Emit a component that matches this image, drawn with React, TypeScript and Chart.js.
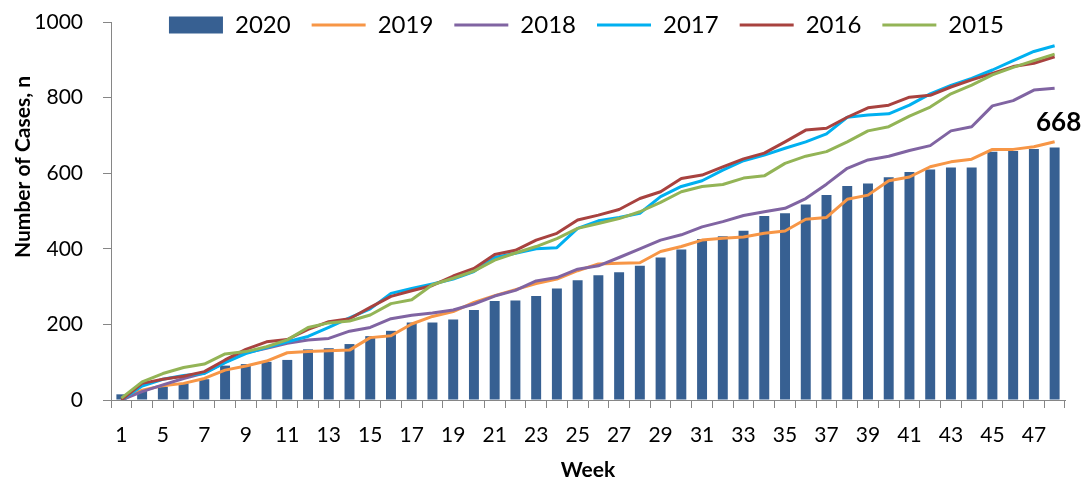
import React, { useEffect, useRef } from 'react';
import { Chart, registerables } from 'chart.js';

Chart.register(...registerables);

// Week labels (every other one is shown on the axis)
const weeks = ['1', '4', '5', '6', '7', '8', '9', '10', '11', '12', '13', '14', '15', '16', '17', '18', '19', '20', '21', '22', '23', '24', '25', '26', '27', '28', '29', '30', '31', '32', '33', '34', '35', '36', '37', '38', '39', '40', '41', '42', '43', '44', '45', '46', '47', '48'];

const cases2020 = [15, 25, 35, 44, 55, 91, 95, 101, 106, 134, 137, 148, 169, 183, 205, 205, 213, 238, 262, 263, 275, 295, 317, 330, 338, 355, 377, 398, 426, 433, 448, 487, 494, 517, 542, 566, 573, 589, 603, 610, 615, 615, 657, 659, 664, 668];
const cases2019 = [0, 26, 38, 44, 57, 79, 90, 103, 125, 128, 130, 132, 165, 170, 201, 221, 234, 258, 276, 292, 308, 320, 342, 360, 362, 363, 393, 406, 423, 428, 431, 441, 447, 478, 483, 531, 542, 580, 590, 617, 630, 637, 663, 663, 670, 683];
const cases2018 = [0, 22, 40, 57, 71, 100, 125, 137, 150, 159, 163, 182, 192, 215, 224, 230, 238, 254, 275, 290, 315, 324, 346, 355, 377, 400, 423, 437, 458, 472, 488, 498, 507, 533, 571, 613, 635, 645, 660, 673, 712, 723, 778, 792, 820, 825];
const cases2017 = [0, 37, 55, 65, 70, 99, 123, 139, 154, 168, 192, 217, 241, 282, 295, 307, 320, 340, 377, 388, 400, 403, 454, 474, 483, 494, 538, 565, 580, 608, 633, 648, 666, 683, 704, 748, 754, 757, 780, 810, 832, 851, 873, 898, 922, 937];
const cases2016 = [0, 44, 55, 63, 75, 106, 134, 154, 160, 187, 207, 215, 245, 274, 289, 303, 328, 348, 385, 396, 423, 441, 476, 489, 504, 533, 551, 586, 595, 617, 638, 653, 683, 714, 719, 748, 773, 780, 801, 806, 828, 847, 864, 882, 891, 908];
const cases2015 = [5, 48, 70, 86, 95, 122, 128, 141, 159, 192, 204, 209, 225, 255, 265, 305, 322, 341, 370, 389, 406, 427, 454, 467, 480, 498, 523, 551, 565, 570, 587, 593, 626, 645, 657, 683, 712, 723, 751, 775, 810, 833, 860, 880, 898, 915];

const yearLabels = ['2020', '2019', '2018', '2017', '2016', '2015'];
const yTicks = [0, 200, 400, 600, 800, 1000];
const xTitle = 'Week';
const yTitle = 'Number of Cases, n';

const FONT = "Lato, 'Open Sans', sans-serif";
const AXIS = '#868686';

const legendPlace = {
  id: 'legendPlace',
  afterLayout(chart: any) {
    const lg = chart.legend;
    if (!lg) return;
    lg.top = -8;
    lg.bottom = 60;
    lg.left += 54;
    lg.right += 54;
  },
};

const yTitlePlugin = {
  id: 'yTitlePlugin',
  afterDraw(chart: any) {
    const ctx = chart.ctx;
    const area = chart.chartArea;
    ctx.save();
    ctx.translate(23, area.top + 145);
    ctx.rotate(-Math.PI / 2);
    ctx.font = `bold 21px ${FONT}`;
    ctx.fillStyle = '#000';
    ctx.textAlign = 'center';
    ctx.textBaseline = 'middle';
    ctx.fillText(yTitle, 0, 0);
    ctx.restore();
  },
};

const lastLabel = {
  id: 'lastLabel',
  afterDatasetsDraw(chart: any) {
    const meta = chart.getDatasetMeta(0);
    const i = cases2020.length - 1;
    const el = meta.data[i];
    if (!el) return;
    const ctx = chart.ctx;
    ctx.save();
    ctx.font = `bold 26px ${FONT}`;
    ctx.fillStyle = '#000';
    ctx.textAlign = 'center';
    ctx.textBaseline = 'alphabetic';
    ctx.fillText(String(cases2020[i]), el.x + 4, el.y - 16);
    ctx.restore();
  },
};

function lineDs(label: string, data: number[], color: string, order: number) {
  return {
    type: 'line' as const,
    label,
    data,
    borderColor: color,
    backgroundColor: color,
    borderWidth: 3,
    pointRadius: 0,
    pointHoverRadius: 0,
    pointStyle: 'line',
    pointBorderWidth: 3,
    pointBorderColor: color,
    pointBackgroundColor: color,
    borderJoinStyle: 'round' as const,
    tension: 0,
    fill: false,
    order,
  };
}

export default function App() {
  const ref = useRef<HTMLCanvasElement>(null);
  useEffect(() => {
    if (!ref.current) return;
    const chart = new Chart(ref.current, {
      type: 'bar',
      data: {
        labels: weeks,
        datasets: [
          {
            type: 'bar',
            label: yearLabels[0],
            data: cases2020,
            backgroundColor: '#376092',
            borderWidth: 0,
            barPercentage: 0.48,
            categoryPercentage: 1,
            pointStyle: 'rect',
            order: 6,
          } as any,
          lineDs(yearLabels[1], cases2019, '#F79646', 5),
          lineDs(yearLabels[2], cases2018, '#8064A2', 4),
          lineDs(yearLabels[3], cases2017, '#00B0F0', 3),
          lineDs(yearLabels[4], cases2016, '#A8423F', 2),
          lineDs(yearLabels[5], cases2015, '#93B456', 1),
        ],
      },
      options: {
        responsive: false,
        animation: false,
        events: [],
        layout: { padding: { left: 0, right: 18, top: 21, bottom: 0 } },
        plugins: {
          tooltip: { enabled: false },
          legend: {
            position: 'top',
            maxHeight: 1,
            labels: {
              usePointStyle: true,
              pointStyleWidth: 54,
              boxHeight: 17,
              padding: 21,
              color: '#000',
              font: { family: FONT, size: 24 },
              sort: (a: any, b: any) => a.datasetIndex - b.datasetIndex,
            },
          },
        },
        scales: {
          x: {
            offset: true,
            afterFit: (s: any) => {
              s.height = 83;
            },
            grid: {
              offset: true,
              drawOnChartArea: false,
              drawTicks: true,
              tickLength: 8,
              color: AXIS,
            },
            border: { display: true, color: AXIS, width: 1 },
            ticks: {
              autoSkip: false,
              maxRotation: 0,
              minRotation: 0,
              padding: 15,
              color: '#000',
              font: { family: FONT, size: 21 },
              callback: (_v: any, i: number) => (i % 2 === 0 ? weeks[i] : ''),
            },
            title: {
              display: true,
              text: xTitle,
              color: '#000',
              font: { family: FONT, size: 21, weight: 'bold' },
              padding: { top: 0, bottom: 0 },
            },
          },
          y: {
            min: yTicks[0],
            max: yTicks[yTicks.length - 1],
            afterBuildTicks: (scale: any) => {
              scale.ticks = yTicks.map((v) => ({ value: v }));
            },
            afterFit: (s: any) => {
              s.width = 111;
              s.paddingTop = 0;
              s.paddingBottom = 0;
            },
            grid: {
              drawOnChartArea: false,
              drawTicks: true,
              tickLength: 8,
              color: AXIS,
            },
            border: { display: true, color: AXIS, width: 1 },
            ticks: {
              padding: 20,
              color: '#000',
              font: { family: FONT, size: 21 },
              callback: (v: any) => String(v),
            },
          },
        },
      },
      plugins: [legendPlace, lastLabel, yTitlePlugin],
    } as any);
    return () => chart.destroy();
  }, []);

  return (
    <div style={{ position: 'fixed', left: 0, top: 0, width: 1083, height: 483, background: '#fff' }}>
      <canvas ref={ref} width={1083} height={483} />
    </div>
  );
}
